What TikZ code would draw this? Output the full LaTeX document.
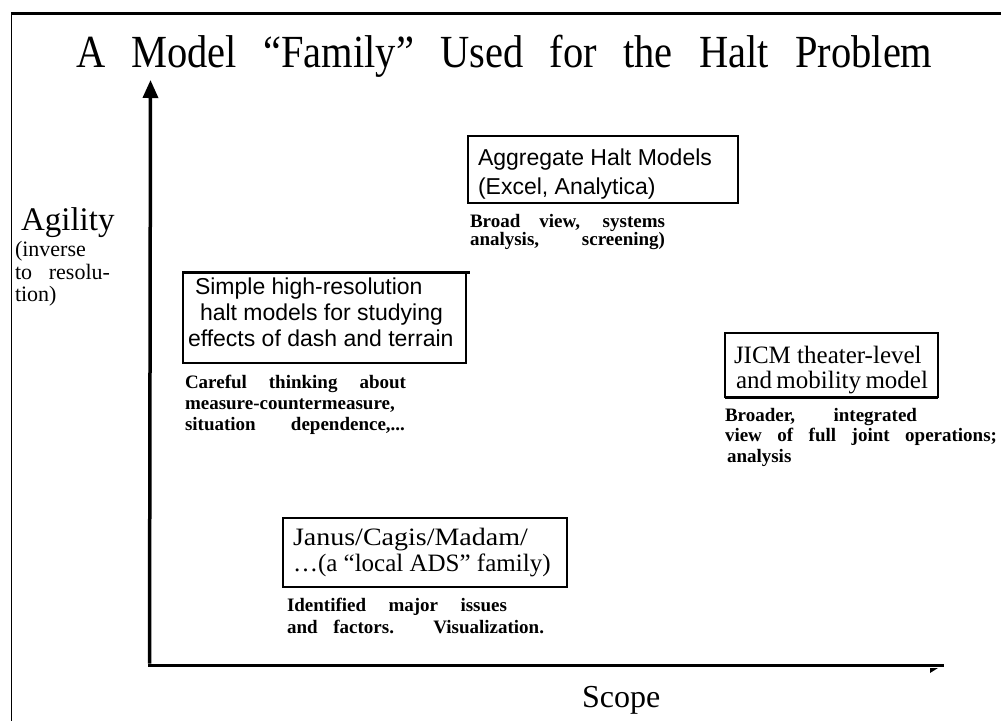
\documentclass[tikz,border=0pt]{standalone}
\usepackage{fontspec}
\usepackage{graphicx}
\setmainfont{Liberation Serif}
\newfontfamily\sansf{Liberation Sans}
\newfontfamily\titlef{Liberation Serif}[FakeStretch=0.88,WordSpace=2.6]
\usetikzlibrary{arrows.meta}
\newcommand{\sline}[2]{\makebox[#1][s]{#2}}
\tikzset{
  every node/.style={inner sep=0pt, outer sep=0pt},
  txt/.style={anchor=base west},
  boxsans/.style={txt, font=\sansf\fontsize{23}{26}\selectfont},
  boxser/.style={txt, font=\fontsize{25}{28}\selectfont},
  captxt/.style={txt, font=\bfseries\fontsize{19}{21}\selectfont},
  sidetxt/.style={txt, font=\fontsize{22}{24}\selectfont},
  mbox/.style={draw, line width=1.2pt, anchor=north west},
  axis/.style={line width=3.5pt},
}
\begin{document}
\begin{tikzpicture}[x=1pt,y=-1pt]
\useasboundingbox (0,0) rectangle (1001,721);
\fill[white] (0,0) rectangle (1001,721);
% frame
\coordinate (ftl) at (11.5,13);
\coordinate (ftr) at (1001,13);
\coordinate (fbl) at (11.5,721);
\draw[line width=3pt] ([xshift=-0.75pt]ftl) -- (ftr);
\draw[line width=1.5pt] (ftl) -- (fbl);
% title
\node[txt, font=\titlef\fontsize{46}{50}\selectfont] (title) at (76,67) {A Model “Family” Used for the Halt Problem};
% axes
\coordinate (orig) at (149.5,665);
\coordinate (ytip) at (150.5,80);
\coordinate (xend) at (944,665);
\draw[axis, -{Triangle[length=18pt,width=15pt]}] ([yshift=1.5pt]orig) -- (ytip);
\draw[line width=3pt] ([xshift=-1.5pt]orig) -- (xend);
\fill (930,668) -- (938,668) -- (930,673) -- cycle;
\node[txt, font=\fontsize{32}{34}\selectfont] (scope) at (582,707) {Scope};
% y label
\node[txt, font=\fontsize{33}{36}\selectfont] (agility) at (21,230) {Agility};
\node[sidetxt] (inv1) at (15,256) {(inverse};
\node[sidetxt] (inv2) at (15,279) {\sline{95pt}{to resolu-}};
\node[sidetxt] (inv3) at (15,301) {tion)};
% simple box
\node[mbox, minimum width=283pt, minimum height=91pt] (simple) at (183,272) {};
\draw[line width=3pt] (simple.north west) -- ([xshift=4pt]simple.north east);
\node[boxsans] (s1) at (195,294) {Simple high-resolution};
\node[boxsans] (s2) at (200,320) {halt models for studying};
\node[boxsans] (s3) at (188,346) {effects of dash and terrain};
\node[captxt] (c1) at (185,388) {\sline{221pt}{Careful thinking about}};
\node[captxt] (c2) at (185,409) {measure-countermeasure,};
\node[captxt] (c3) at (185,430) {\sline{220pt}{situation dependence,...}};
% aggregate box
\node[mbox, minimum width=270pt, minimum height=67pt] (agg) at (468,136) {};
\node[boxsans] (a1) at (478,165) {Aggregate Halt Models};
\node[boxsans] (a2) at (478,194) {(Excel, Analytica)};
\node[captxt] (b1) at (470,227) {\sline{195pt}{Broad view, systems}};
\node[captxt] (b2) at (470,245) {\sline{195pt}{analysis, screening)}};
% JICM box
\node[mbox, minimum width=213pt, minimum height=64pt] (jicm) at (725,333) {};
\draw[line width=3pt] (jicm.south west) -- (jicm.south east);
\node[boxser] (j1) at (734,363) {JICM theater-level};
\node[boxser] (j2) at (736,388) {\sline{192pt}{and mobility model}};
\node[captxt] (d1) at (725,421) {\sline{192pt}{Broader, integrated}};
\node[captxt] (d2) at (725,441) {\sline{272pt}{view of full joint operations;}};
\node[captxt] (d3) at (727,462) {analysis};
% Janus box
\node[mbox, minimum width=284pt, minimum height=69pt] (janus) at (283,518) {};
\node[boxser] (n1) at (293,545) {\scalebox{1.12}[1]{Janus/Cagis/Madam/}};
\node[boxser] (n2) at (293,571) {…(a “local ADS” family)};
\node[captxt] (e1) at (287,611) {\sline{220pt}{Identified major issues}};
\node[captxt] (e2) at (287,633) {\sline{257pt}{and factors. Visualization.}};
\end{tikzpicture}
\end{document}
